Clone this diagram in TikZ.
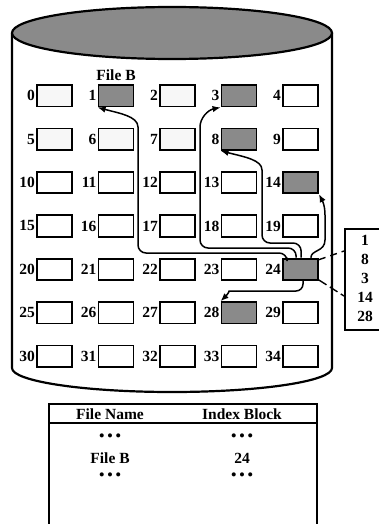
\documentclass[tikz,border=0pt]{standalone}
\usepackage{fontspec}
\setmainfont{Liberation Serif}
\usetikzlibrary{arrows.meta}
\definecolor{shade}{HTML}{8A8A8A}
\definecolor{light}{HTML}{F7F7F7}
\newcommand{\threedots}{•\kern2.3pt•\kern2.3pt•}
\begin{document}
\begin{tikzpicture}[x=1pt,y=-1pt,
  blk/.style={draw, line width=1.8pt, minimum width=35pt, minimum height=21.5pt, inner sep=0pt, fill=white},
  lbl/.style={font=\fontsize{15.5}{18}\selectfont\bfseries, inner sep=0pt},
  dots/.style={font=\fontsize{17}{18}\selectfont, inner sep=0pt},
  arr/.style={line width=1.5pt, -{Latex[length=8pt,width=6.5pt]}},
  outline/.style={line width=2.2pt},
  fb1/.style={fill=shade}, fb3/.style={fill=shade}, fb8/.style={fill=shade},
  fb14/.style={fill=shade}, fb24/.style={fill=shade}, fb28/.style={fill=shade},
  fb0/.style={fill=light}, fb2/.style={fill=light}, fb5/.style={fill=light},
  fb6/.style={fill=light}, fb7/.style={fill=light},
]
\useasboundingbox (0,0) rectangle (379,524);
% cylinder
\draw[outline] (12,33) -- (12,368) arc[start angle=180, end angle=0, x radius=160, y radius=24] -- (332,33);
\draw[outline, fill=shade] (172,33) ellipse[x radius=160, y radius=26];
% grid
\foreach \r in {0,...,6} {
  \foreach \c in {0,...,4} {
    \pgfmathtruncatemacro\n{5*\r+\c}
    \node[blk, fb\n/.try] (box\n) at ({54.5+61.5*\c},{95.75+43.4*\r}) {};
    \node[lbl, anchor=east] (num\n) at ([xshift=-1pt]box\n.west) {\n};
  }
}
\node[lbl] (fileb) at (116,75) {File B};
% index block
\node[draw, line width=1.8pt, minimum width=60pt, minimum height=101pt, inner sep=0pt, anchor=north west] (idx) at (344,228) {};
\node[lbl] (i1) at (365,240.5) {1};
\node[lbl] (i8) at (365,259.5) {8};
\node[lbl] (i3) at (365,278.5) {3};
\node[lbl] (i14) at (365,297.5) {14};
\node[lbl] (i28) at (365,316.5) {28};
\coordinate (d1) at (344,251);
\coordinate (d2) at (344,296);
\draw[line width=1.4pt, dash pattern=on 7pt off 5pt] ([yshift=-2pt]box24.north east) -- (d1);
\draw[line width=1.4pt, dash pattern=on 9pt off 4pt] ([yshift=1pt]box24.south east) -- (d2);
% arrows
\draw[arr, rounded corners=8pt] ([xshift=5pt]box24.north west) |- (138,253) -- (138,135) .. controls (138,116) and (118,113) .. (box1.south west);
\draw[arr, rounded corners=8pt] ([xshift=14pt]box24.north west) |- (200,248) -- (200,135) .. controls (200,118) and (208,110) .. (box3.south west);
\draw[arr, rounded corners=8pt] ([xshift=19pt]box24.north west) |- (262,243) -- (262,178) .. controls (262,160) and (245,157) .. (box8.south west);
\draw[arr] ([xshift=-8pt]box24.north east) .. controls ([xshift=-8pt,yshift=8pt]box24.north east) and (325,252) .. (325,240) -- (325,215) .. controls (325,205) and (322,200) .. (box14.south east);
\draw[arr, rounded corners=7pt] ([xshift=2.5pt]box24.south) -- (303,291) -- (236,291) .. controls (230,291) and (226,296) .. (box28.north west);
% table
\node[draw, line width=1.8pt, minimum width=268pt, minimum height=160pt, inner sep=0pt, anchor=north west] (tbl) at (48,403) {};
\coordinate (hl) at (48,423);
\coordinate (hr) at (316,423);
\draw[line width=1.8pt] (hl) -- (hr);
\node[lbl] (h1) at (110,414) {File Name};
\node[lbl] (h2) at (242,414) {Index Block};
\node[dots] (a1) at (110,438) {\threedots};
\node[dots] (a2) at (242,438) {\threedots};
\node[lbl] (b1) at (110,458) {File B};
\node[lbl] (b2) at (242,458) {24};
\node[dots] (c1) at (110,477) {\threedots};
\node[dots] (c2) at (242,477) {\threedots};
\end{tikzpicture}
\end{document}
